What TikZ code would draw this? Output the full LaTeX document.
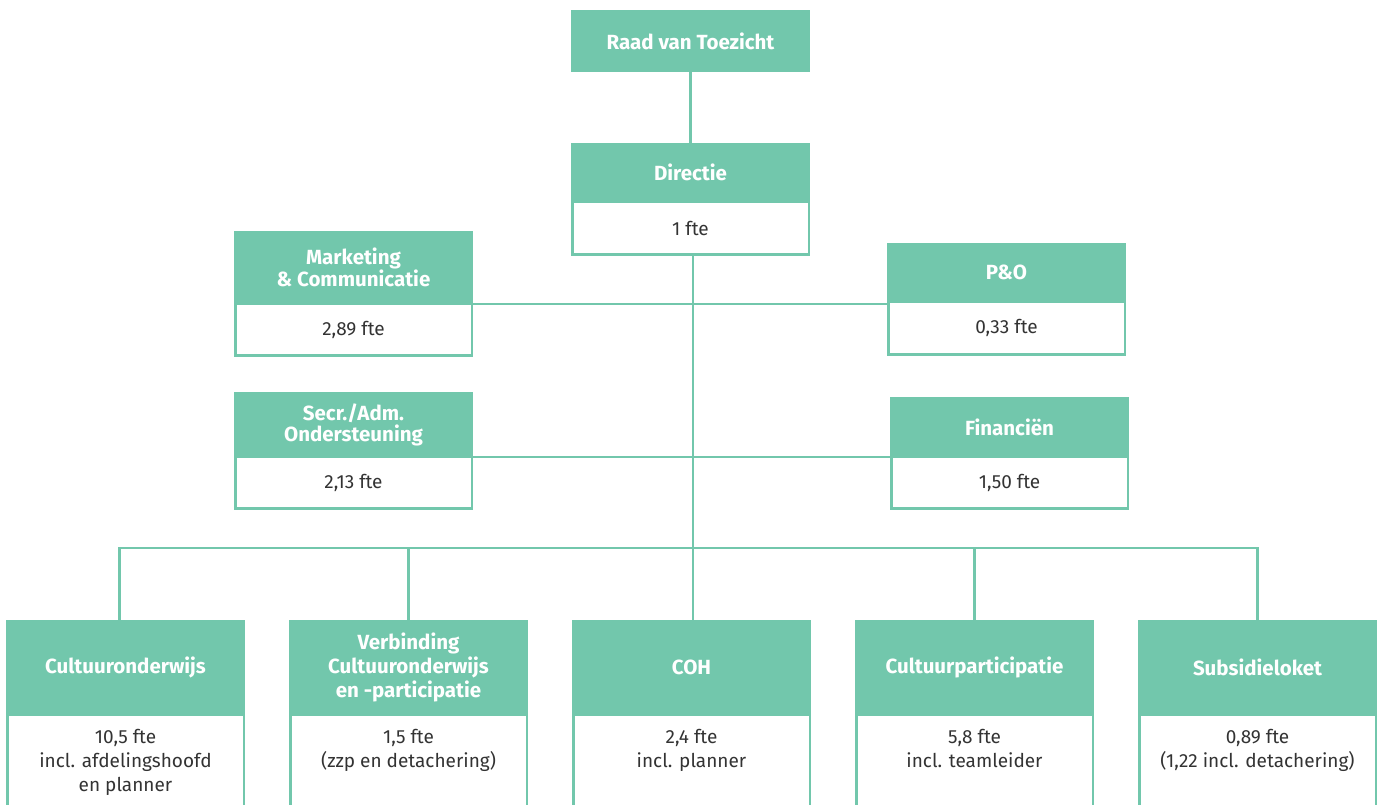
\documentclass[tikz,border=0pt]{standalone}
\usepackage{fontspec}
\setmainfont{Fira Sans}
\usetikzlibrary{positioning}
\definecolor{mint}{HTML}{72C7AC}
\definecolor{tekst}{HTML}{333333}

\tikzset{
  organigram/.style={
      x=1pt, y=-1pt,
      kop/.style={fill=mint, text=white, font={\fontsize{20.5}{21}\selectfont\bfseries},
          align=center, minimum width=239pt, inner sep=0pt, outer sep=0pt, anchor=north west},
      romp/.style={draw=mint, line width=2.5pt, fill=white, text=tekst,
          font={\fontsize{19}{20}\selectfont}, align=center, minimum width=236.5pt,
          inner sep=0pt, outer sep=0pt, below=0pt of ##1},
      afdeling/.style={kop, minimum height=95pt, font={\fontsize{20.5}{24}\selectfont\bfseries}},
      afdfte/.style={romp=##1, minimum height=100pt},
      ftetekst/.style={text=tekst, font={\fontsize{19}{24}\selectfont}, align=center,
          inner sep=0pt, anchor=north, below=14pt of ##1.north},
      lijn/.style={draw=mint, line width=2.5pt},
    },
}

\begin{document}
\begin{tikzpicture}[organigram]
    \clip (0,0) rectangle (1381,805);

    \node[kop, minimum height=62pt] (raad) at (571,10) {Raad van Toezicht};
    \node[kop, minimum height=59pt] (dir) at (571,143) {Directie};
    \node[romp=dir, minimum height=52.5pt] (dirfte) {1 fte};

    \node[kop, minimum height=73pt] (mc) at (234,231) {Marketing\\ \& Communicatie};
    \node[romp=mc, minimum height=51.5pt] (mcfte) {2,89 fte};
    \node[kop, minimum height=59pt] (po) at (887,243) {P\&O};
    \node[romp=po, minimum height=52.5pt] (pofte) {0,33 fte};

    \node[kop, minimum height=65pt] (sec) at (234,392) {Secr./Adm.\\ Ondersteuning};
    \node[romp=sec, minimum height=51.5pt] (secfte) {2,13 fte};
    \node[kop, minimum height=60pt] (fin) at (890,397) {Financiën};
    \node[romp=fin, minimum height=51.5pt] (finfte) {1,50 fte};

    % afdelingen
    \node[afdeling] (cult) at (6,620) {Cultuuronderwijs};
    \node[afdfte=cult] (cultfte) {};
    \node[ftetekst=cultfte] (culttxt) {10,5 fte\\ incl. afdelingshoofd\\ en planner};
    \node[afdeling] (verb) at (289,620) {Verbinding\\ Cultuuronderwijs\\ en -participatie};
    \node[afdfte=verb] (verbfte) {};
    \node[ftetekst=verbfte] (verbtxt) {1,5 fte\\ (zzp en detachering)};
    \node[afdeling] (coh) at (572,620) {COH};
    \node[afdfte=coh] (cohfte) {};
    \node[ftetekst=cohfte] (cohtxt) {2,4 fte\\ incl. planner};
    \node[afdeling] (cp) at (855,620) {Cultuurparticipatie};
    \node[afdfte=cp] (cpfte) {};
    \node[ftetekst=cpfte] (cptxt) {5,8 fte\\ incl. teamleider};
    \node[afdeling] (sub) at (1138,620) {Subsidieloket};
    \node[afdfte=sub] (subfte) {};
    \node[ftetekst=subfte] (subtxt) {0,89 fte\\ (1,22 incl. detachering)};

    \coordinate (bus) at (693,548);

    \draw[lijn] (raad) -- (dir);
    \draw[lijn] (dirfte.south -| bus) -- (coh.north -| bus);
    \draw[lijn] (mc.south east) -- (mc.south east -| po.west);
    \draw[lijn] (sec.south east) -- (fin.south west);
    \draw[lijn] ([xshift=-6pt]cult.north) |- (bus) -| (sub.north);
    \draw[lijn] (verb.north) |- (bus);
    \draw[lijn] (cp.north) |- (bus);
  \end{tikzpicture}
\end{document}
